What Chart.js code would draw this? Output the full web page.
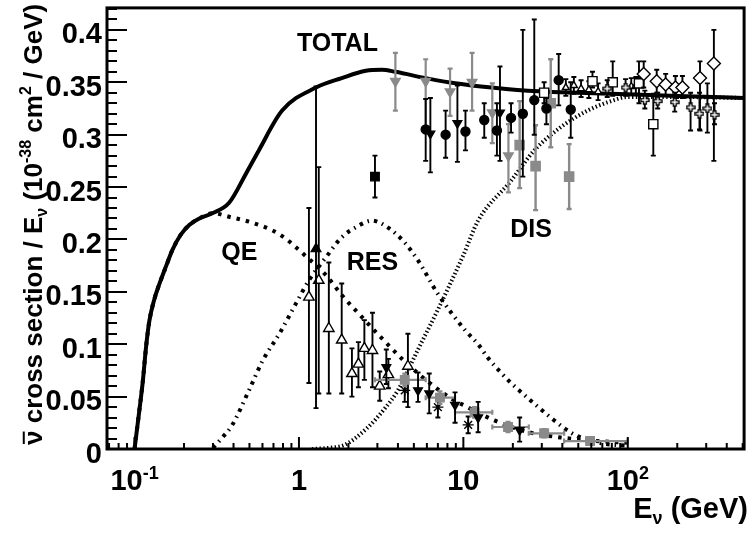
<!DOCTYPE html>
<html>
<head>
<meta charset="UTF-8">
<title>antineutrino cross section / E</title>
<script src="https://cdn.jsdelivr.net/npm/chart.js@4"></script>
<style>
  html, body { margin: 0; padding: 0; background: #fff; }
  #wrap { width: 752px; height: 534px; }
</style>
</head>
<body>
<div id="wrap"><canvas id="c" width="752" height="534"></canvas></div>
<script>
// ---- axis ranges / ticks ----
const xMin = 0.068, xMax = 510;
const yMin = 0, yMax = 0.421;
const yTicks = [0, 0.05, 0.1, 0.15, 0.2, 0.25, 0.3, 0.35, 0.4];
const yTickLabels = ['0', '0.05', '0.1', '0.15', '0.2', '0.25', '0.3', '0.35', '0.4'];
const xTicks = [0.1, 1, 10, 100];
const xTickBase = ['10', '1', '10', '10'];
const xTickExp = ['-1', '', '', '2'];

// ---- model curves ----
const totalE = [0.1, 0.107, 0.112, 0.118, 0.123, 0.132, 0.142, 0.156, 0.17, 0.19, 0.216, 0.248, 0.297, 0.376, 0.477, 0.57, 0.79, 1.27, 1.82, 2.55, 3.2, 3.86, 5.9, 8.1, 12.8, 24.7, 79, 200, 510];
const totalY = [0.0, 0.037, 0.063, 0.1, 0.122, 0.143, 0.158, 0.175, 0.19, 0.204, 0.214, 0.22, 0.225, 0.235, 0.263, 0.285, 0.323, 0.345, 0.354, 0.361, 0.362, 0.36, 0.354, 0.35, 0.346, 0.342, 0.339, 0.337, 0.335];

const qeE = [0.1, 0.107, 0.112, 0.118, 0.123, 0.132, 0.142, 0.156, 0.17, 0.19, 0.216, 0.248, 0.297, 0.39, 0.52, 0.76, 1.12, 1.46, 1.82, 2.41, 3.36, 4.3, 5.5, 7, 8.9, 10.3, 12.5, 15.6, 25, 39, 60, 100];
const qeY = [0.0, 0.037, 0.063, 0.1, 0.122, 0.143, 0.158, 0.175, 0.19, 0.204, 0.214, 0.22, 0.225, 0.221, 0.216, 0.205, 0.183, 0.166, 0.147, 0.126, 0.102, 0.085, 0.07, 0.057, 0.046, 0.041, 0.034, 0.027, 0.016, 0.011, 0.008, 0.006];

const resE = [0.3, 0.34, 0.39, 0.5, 0.6, 0.76, 0.96, 1.15, 1.46, 1.82, 2.3, 2.77, 3.5, 4.4, 5.3, 7, 10.3, 12.3, 14.1, 16.9, 19.5, 23.7, 28.5, 34, 41, 50, 66, 100];
const resY = [0.001, 0.0105, 0.022, 0.057, 0.084, 0.11, 0.139, 0.161, 0.183, 0.202, 0.213, 0.218, 0.211, 0.197, 0.18, 0.148, 0.113, 0.1, 0.087, 0.073, 0.063, 0.051, 0.04, 0.03, 0.02, 0.012, 0.006, 0.003];

const disE = [1.2, 1.5, 1.9, 2.6, 3.3, 4, 5.3, 7, 10, 12.3, 19.5, 27, 39, 57, 79, 100, 200, 510];
const disY = [0.0, 0.001, 0.004, 0.02, 0.038, 0.056, 0.095, 0.133, 0.185, 0.218, 0.256, 0.285, 0.307, 0.323, 0.332, 0.336, 0.336, 0.335];

// ---- measurements (E, value, error low, error high) ----
const triOpenE = [1.15, 1.32, 1.52, 1.82, 2.1, 2.3, 2.5, 2.8, 3.1, 3.5, 4.6];
const triOpenY = [0.145, 0.161, 0.115, 0.104, 0.072, 0.081, 0.096, 0.094, 0.06, 0.071, 0.079];
const triOpenLo = [0.063, 0.053, 0.053, 0.053, 0.05, 0.059, 0.066, 0.059, 0.046, 0.058, 0.04];
const triOpenHi = [0.23, 0.269, 0.178, 0.158, 0.096, 0.102, 0.123, 0.13, 0.074, 0.086, 0.11];

const triFillE = [1.27];
const triFillY = [0.191];
const triFillLo = [0.039];
const triFillHi = [0.346];

const invBlackE = [3.4, 5.3, 6.2, 8.9, 12.3, 22, 6.3, 9.2, 16.7];
const invBlackY = [0.078, 0.056, 0.053, 0.042, 0.03, 0.018, 0.301, 0.311, 0.321];
const invBlackLo = [0.062, 0.045, 0.034, 0.025, 0.016, 0.007, 0.264, 0.274, 0.275];
const invBlackHi = [0.095, 0.073, 0.072, 0.054, 0.045, 0.03, 0.335, 0.347, 0.365];

const invGrayE = [3.86, 5.9, 8.3, 11.3, 15, 18.8];
const invGrayY = [0.351, 0.351, 0.341, 0.35, 0.321, 0.28];
const invGrayLo = [0.323, 0.307, 0.318, 0.323, 0.292, 0.245];
const invGrayHi = [0.378, 0.372, 0.363, 0.378, 0.349, 0.31];

const circE = [5.9, 7.8, 10.3, 13.4, 16, 19.5, 23, 27, 32, 38, 45];
const circY = [0.305, 0.3, 0.303, 0.314, 0.304, 0.316, 0.32, 0.333, 0.325, 0.352, 0.324];
const circLo = [0.275, 0.278, 0.285, 0.297, 0.28, 0.302, 0.26, 0.3, 0.31, 0.328, 0.297];
const circHi = [0.334, 0.323, 0.323, 0.33, 0.33, 0.33, 0.4, 0.41, 0.335, 0.377, 0.35];

const sqGrayE = [22, 27.5, 34, 44];
const sqGrayY = [0.29, 0.27, 0.33, 0.26];
const sqGrayLo = [0.249, 0.228, 0.288, 0.229];
const sqGrayHi = [0.332, 0.309, 0.372, 0.291];

const binE = [4.4, 7.2, 11.7, 18.7, 31, 59];
const binY = [0.066, 0.049, 0.035, 0.021, 0.015, 0.0076];
const binLo = [0.06, 0.043, 0.03, 0.016, 0.011, 0.004];
const binHi = [0.072, 0.055, 0.04, 0.026, 0.019, 0.011];
const binEmin = [2.9, 5.9, 8.9, 15, 25, 41];
const binEmax = [5.9, 8.9, 15, 25, 41, 100];

const sqBlackE = [2.9];
const sqBlackY = [0.26];
const sqBlackLo = [0.24];
const sqBlackHi = [0.28];

const sqOpenE = [31, 61, 81, 117, 143];
const sqOpenY = [0.34, 0.351, 0.35, 0.349, 0.31];
const sqOpenLo = [0.33, 0.345, 0.337, 0.33, 0.28];
const sqOpenHi = [0.35, 0.36, 0.37, 0.37, 0.339];

const diaE = [125, 150, 170, 195, 215, 275, 334];
const diaY = [0.358, 0.351, 0.348, 0.345, 0.345, 0.354, 0.368];
const diaLo = [0.345, 0.34, 0.338, 0.335, 0.335, 0.304, 0.275];
const diaHi = [0.37, 0.362, 0.358, 0.356, 0.356, 0.37, 0.4];

const plusE = [75, 97, 127, 152, 193, 241, 273, 305, 337];
const plusY = [0.344, 0.345, 0.333, 0.332, 0.331, 0.326, 0.32, 0.325, 0.319];
const plusLo = [0.336, 0.337, 0.325, 0.325, 0.322, 0.304, 0.305, 0.302, 0.31];
const plusHi = [0.352, 0.353, 0.342, 0.34, 0.34, 0.34, 0.34, 0.349, 0.33];

const triSmallE = [42, 47, 52, 58, 66, 105, 112];
const triSmallY = [0.345, 0.347, 0.344, 0.343, 0.341, 0.346, 0.347];
const triSmallLo = [0.337, 0.339, 0.336, 0.335, 0.333, 0.338, 0.339];
const triSmallHi = [0.353, 0.355, 0.352, 0.351, 0.349, 0.354, 0.355];

const starE = [4.4, 7.0, 10.7];
const starY = [0.056, 0.04, 0.023];
const starLo = [0.045, 0.03, 0.015];
const starHi = [0.068, 0.05, 0.031];

// curve names, placed at (E, value) of their text baseline start
const curveNames = ['TOTAL', 'QE', 'RES', 'DIS'];
const nameE = [0.972, 0.337, 1.955, 19.3];
const nameY = [0.38, 0.18, 0.1705, 0.202];

const FONT = '"Liberation Sans", Arial, Helvetica, sans-serif';
const GRAY = '#8a8a8a';

function curve(E, Y) {
  return E.map((e, i) => ({ x: e, y: Y[i] }));
}
function pts(E, Y, lo, hi, emin, emax) {
  return E.map((e, i) => ({
    x: e, y: Y[i], yMin: lo[i], yMax: hi[i],
    xMin: emin ? emin[i] : null, xMax: emax ? emax[i] : null
  }));
}

// open "+" marker
function plusIcon(s) {
  const c = document.createElement('canvas');
  c.width = s; c.height = s;
  const g = c.getContext('2d');
  const m = 1, a = s * 0.36, b = s * 0.64, e = s - 1;
  g.beginPath();
  g.moveTo(a, m); g.lineTo(b, m); g.lineTo(b, a); g.lineTo(e, a); g.lineTo(e, b);
  g.lineTo(b, b); g.lineTo(b, e); g.lineTo(a, e); g.lineTo(a, b); g.lineTo(m, b);
  g.lineTo(m, a); g.lineTo(a, a); g.closePath();
  g.fillStyle = '#fff'; g.fill();
  g.strokeStyle = '#000'; g.lineWidth = 1.4; g.stroke();
  return c;
}

function lineSet(data, width, dash) {
  return {
    data, showLine: true, pointRadius: 0, borderColor: '#000', borderWidth: width,
    borderDash: dash, cubicInterpolationMode: 'monotone', fill: false, order: 10,
    borderCapStyle: 'butt'
  };
}
function markSet(data, style, radius, fill, stroke, extra) {
  return Object.assign({
    data, showLine: false, pointStyle: style, pointRadius: radius,
    backgroundColor: fill, borderColor: stroke, borderWidth: 1.4, order: 0,
    errColor: stroke, errWidth: 1.9
  }, extra || {});
}

const errorBars = {
  id: 'errorBars',
  beforeDatasetDraw(chart, args) {
    const ds = chart.data.datasets[args.index];
    if (ds.showLine) return;
    const { ctx, chartArea: a } = chart;
    const xs = chart.scales.x, ys = chart.scales.y;
    ctx.save();
    ctx.beginPath();
    ctx.rect(a.left, a.top, a.right - a.left, a.bottom - a.top);
    ctx.clip();
    ctx.strokeStyle = ds.errColor;
    ctx.lineWidth = ds.errWidth;
    ctx.beginPath();
    ds.data.forEach(p => {
      const px = xs.getPixelForValue(p.x), py = ys.getPixelForValue(p.y);
      if (p.yMin != null) {
        const y1 = ys.getPixelForValue(p.yMin), y2 = ys.getPixelForValue(p.yMax);
        ctx.moveTo(px, y1); ctx.lineTo(px, y2);
        ctx.moveTo(px - 2.5, y1); ctx.lineTo(px + 2.5, y1);
        ctx.moveTo(px - 2.5, y2); ctx.lineTo(px + 2.5, y2);
      }
      if (p.xMin != null) {
        const x1 = xs.getPixelForValue(p.xMin), x2 = xs.getPixelForValue(p.xMax);
        ctx.moveTo(x1, py); ctx.lineTo(x2, py);
        ctx.moveTo(x1, py - 2.5); ctx.lineTo(x1, py + 2.5);
        ctx.moveTo(x2, py - 2.5); ctx.lineTo(x2, py + 2.5);
      }
    });
    ctx.stroke();
    ctx.restore();
  }
};

// draw runs of text with sub/superscripts along the local x axis
function richWidth(ctx, segs) {
  let w = 0;
  segs.forEach(s => { ctx.font = 'bold ' + s.size + 'px ' + FONT; w += ctx.measureText(s.t).width; });
  return w;
}
function drawRich(ctx, segs, x0, y0) {
  let x = x0;
  segs.forEach(s => {
    ctx.font = 'bold ' + s.size + 'px ' + FONT;
    const w = ctx.measureText(s.t).width;
    ctx.fillText(s.t, x, y0 + (s.dy || 0));
    if (s.bar) {
      ctx.fillRect(x + 1, y0 - s.size * 0.74, w - 2, 2);
    }
    x += w;
  });
}

const axes = {
  id: 'axes',
  afterDraw(chart) {
    const { ctx, chartArea: a } = chart;
    const xs = chart.scales.x, ys = chart.scales.y;
    ctx.save();
    ctx.strokeStyle = '#000';
    ctx.fillStyle = '#000';

    // y ticks (inside, left)
    ctx.lineWidth = 2;
    ctx.beginPath();
    for (let i = 0; i <= 42; i++) {
      const py = Math.round(ys.getPixelForValue(i / 100));
      const len = (i % 5 === 0) ? 20 : 10;
      ctx.moveTo(a.left, py); ctx.lineTo(a.left + len, py);
    }
    // x ticks (inside, bottom)
    for (let d = -2; d <= 2; d++) {
      for (let m = 1; m <= 9; m++) {
        const v = m * Math.pow(10, d);
        if (v < xMin || v > xMax) continue;
        const px = xs.getPixelForValue(v);
        const len = (m === 1) ? 12 : 6;
        ctx.moveTo(px, a.bottom); ctx.lineTo(px, a.bottom - len);
      }
    }
    ctx.stroke();

    // frame
    ctx.lineWidth = 3;
    ctx.strokeRect(a.left, a.top, a.right - a.left, a.bottom - a.top);

    // y tick labels
    ctx.textBaseline = 'alphabetic';
    ctx.textAlign = 'right';
    ctx.font = 'bold 29px ' + FONT;
    yTicks.forEach((v, i) => {
      ctx.fillText(yTickLabels[i], a.left - 5, ys.getPixelForValue(v) + 13.5);
    });

    // x tick labels with exponents
    ctx.textAlign = 'left';
    xTicks.forEach((v, i) => {
      const segs = [{ t: xTickBase[i], size: 29 }];
      if (xTickExp[i]) segs.push({ t: xTickExp[i], size: 18, dy: -11 });
      const w = richWidth(ctx, segs);
      drawRich(ctx, segs, xs.getPixelForValue(v) - w / 2, 490);
    });

    // x title
    const xt = [{ t: 'E', size: 29 }, { t: 'ν', size: 18, dy: 6 }, { t: ' (GeV)', size: 29 }];
    drawRich(ctx, xt, 748 - richWidth(ctx, xt), 518);

    // y title (rotated)
    const yt = [
      { t: 'ν', size: 26, bar: true }, { t: ' cross section / E', size: 26 },
      { t: 'ν', size: 16, dy: 5 }, { t: ' (10', size: 26 }, { t: '-38', size: 16, dy: -11 },
      { t: ' cm', size: 26 }, { t: '2', size: 16, dy: -11 }, { t: ' / GeV)', size: 26 }
    ];
    ctx.save();
    ctx.translate(42, 445);
    ctx.rotate(-Math.PI / 2);
    drawRich(ctx, yt, 0, 0);
    ctx.restore();

    // curve names
    ctx.font = 'bold 25px ' + FONT;
    curveNames.forEach((n, i) => {
      ctx.fillText(n, xs.getPixelForValue(nameE[i]), ys.getPixelForValue(nameY[i]));
    });
    ctx.restore();
  }
};

new Chart(document.getElementById('c'), {
  type: 'scatter',
  data: {
    datasets: [
      markSet(pts(plusE, plusY, plusLo, plusHi), plusIcon(10), 5, '#fff', '#000'),
      markSet(pts(diaE, diaY, diaLo, diaHi), 'rectRot', 6.5, '#fff', '#000'),
      markSet(pts(sqOpenE, sqOpenY, sqOpenLo, sqOpenHi), 'rect', 6.5, '#fff', '#000'),
      markSet(pts(triSmallE, triSmallY, triSmallLo, triSmallHi), 'triangle', 4, '#fff', '#000'),
      markSet(pts(circE, circY, circLo, circHi), 'circle', 4.5, '#000', '#000'),
      markSet(pts(invBlackE, invBlackY, invBlackLo, invBlackHi), 'triangle', 5, '#000', '#000', { rotation: 180 }),
      markSet(pts(invGrayE, invGrayY, invGrayLo, invGrayHi), 'triangle', 5.5, GRAY, GRAY, { rotation: 180, errWidth: 2.2 }),
      markSet(pts(sqGrayE, sqGrayY, sqGrayLo, sqGrayHi), 'rect', 6.5, GRAY, GRAY, { errWidth: 2.4 }),
      markSet(pts(binE, binY, binLo, binHi, binEmin, binEmax), 'rect', 6, GRAY, GRAY, { errWidth: 2.2 }),
      markSet(pts(sqBlackE, sqBlackY, sqBlackLo, sqBlackHi), 'rect', 6, '#000', '#000'),
      markSet(pts(starE, starY, starLo, starHi), 'star', 5.5, '#000', '#000'),
      markSet(pts(triFillE, triFillY, triFillLo, triFillHi), 'triangle', 5.5, '#000', '#000'),
      markSet(pts(triOpenE, triOpenY, triOpenLo, triOpenHi), 'triangle', 6, '#fff', '#000'),
      lineSet(curve(totalE, totalY), 4, []),
      lineSet(curve(qeE, qeY), 4, [3.5, 6]),
      lineSet(curve(resE, resY), 4, [3.5, 5, 1.5, 5]),
      lineSet(curve(disE, disY), 4, [1.4, 2.4])
    ]
  },
  options: {
    responsive: false,
    devicePixelRatio: 1,
    animation: false,
    layout: { padding: { left: 107, right: 5, top: 7, bottom: 85 } },
    plugins: { legend: { display: false }, tooltip: { enabled: false } },
    scales: {
      x: { type: 'logarithmic', min: xMin, max: xMax, display: false },
      y: { type: 'linear', min: yMin, max: yMax, display: false }
    }
  },
  plugins: [errorBars, axes]
});
</script>
</body>
</html>
